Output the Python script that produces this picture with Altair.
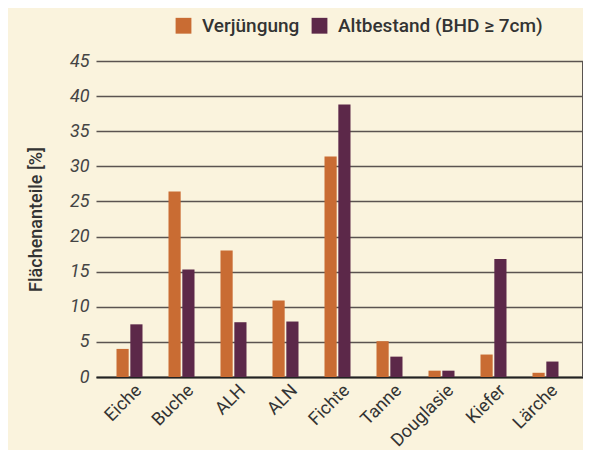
import altair as alt
import pandas as pd

categories = ["Eiche", "Buche", "ALH", "ALN", "Fichte", "Tanne", "Douglasie", "Kiefer", "Lärche"]
verjuengung = [4.0, 26.4, 18.0, 10.9, 31.4, 5.1, 0.9, 3.2, 0.6]
altbestand = [7.5, 15.3, 7.8, 7.9, 38.8, 2.9, 0.9, 16.8, 2.2]
series = ["Verjüngung", "Altbestand (BHD ≥ 7cm)"]
colors = ["#C96C33", "#5C2849"]

rows = []
for c, v, a in zip(categories, verjuengung, altbestand):
    rows.append({"Art": c, "Serie": series[0], "Wert": v})
    rows.append({"Art": c, "Serie": series[1], "Wert": a})
df = pd.DataFrame(rows)

FONT = "Roboto"
W, H = 487, 316

bars = alt.Chart(df).mark_bar().encode(
    x=alt.X("Art:N", sort=categories,
            scale=alt.Scale(paddingInner=0.5, paddingOuter=0.4327, align=0.4556),
            axis=alt.Axis(title=None, labelAngle=-45, labelFontSize=18, labelColor="#333333",
                          labelFont=FONT, ticks=False, domain=True, domainColor="#222222",
                          domainWidth=2.2, labelPadding=4, labelOffset=3, grid=False)),
    xOffset=alt.XOffset("Serie:N", sort=series, scale=alt.Scale(paddingInner=0.12)),
    y=alt.Y("Wert:Q", scale=alt.Scale(domain=[0, 45]),
            axis=alt.Axis(title="Flächenanteile [%]", values=list(range(0, 50, 5)),
                          labelFontSize=18, labelFontStyle="italic", labelColor="#444444",
                          labelFont=FONT, ticks=False, domain=False, labelPadding=7,
                          grid=True, gridColor="#5a5350", gridWidth=1.5,
                          titleFont=FONT, titleFontSize=18, titleFontWeight=500,
                          titleColor="#333333", titlePadding=24)),
    color=alt.Color("Serie:N", sort=series,
                    scale=alt.Scale(domain=series, range=colors),
                    legend=alt.Legend(title=None, orient="none", direction="horizontal",
                                      legendX=78, legendY=-45, symbolType="square",
                                      symbolSize=250, symbolStrokeWidth=0, labelLimit=0,
                                      labelFontSize=19, labelFont=FONT, labelFontWeight=500,
                                      labelColor="#333333", columnPadding=10, labelOffset=9)),
)

border = alt.Chart(df).mark_rule(color="#5a5350", strokeWidth=1.5).encode(
    x=alt.value(W), y=alt.value(0), y2=alt.value(H)
)

chart = alt.layer(bars, border).properties(
    width=W, height=H,
    background="#FAF3DD",
    padding={"left": 88, "top": 53, "right": 0, "bottom": 73},
    autosize=alt.AutoSizeParams(type="none"),
).configure_view(stroke=None)

chart.save("out.html", embed_options={"renderer": "svg", "actions": False})
